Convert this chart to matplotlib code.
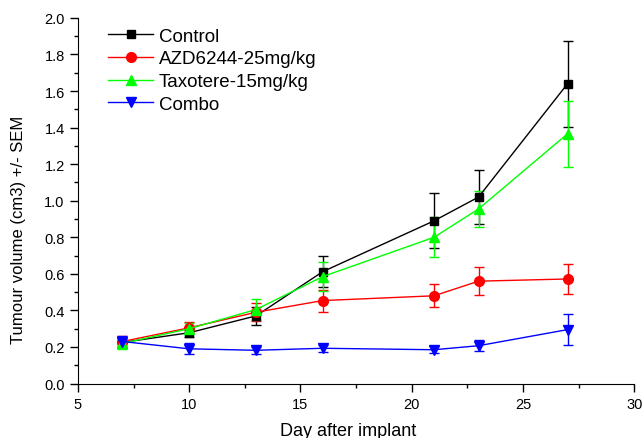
import numpy as np
import matplotlib.pyplot as plt
from matplotlib.ticker import MultipleLocator

plt.rcParams['font.family'] = ['Liberation Sans', 'DejaVu Sans']

days = [7, 10, 13, 16, 21, 23, 27]

control = [0.225, 0.278, 0.37, 0.612, 0.89, 1.02, 1.64]
control_err = [0.03, 0.025, 0.05, 0.085, 0.15, 0.146, 0.235]

azd = [0.23, 0.305, 0.39, 0.454, 0.48, 0.56, 0.572]
azd_err = [0.03, 0.03, 0.05, 0.06, 0.062, 0.075, 0.08]

taxotere = [0.22, 0.30, 0.405, 0.585, 0.80, 0.955, 1.366]
taxotere_err = [0.03, 0.03, 0.055, 0.08, 0.11, 0.10, 0.18]

combo = [0.23, 0.19, 0.182, 0.193, 0.185, 0.207, 0.295]
combo_err = [0.03, 0.03, 0.02, 0.02, 0.02, 0.03, 0.085]

series = [
    ('Control', control, control_err, 'black', 's', 6),
    ('AZD6244-25mg/kg', azd, azd_err, 'red', 'o', 7),
    ('Taxotere-15mg/kg', taxotere, taxotere_err, '#00ff00', '^', 7.5),
    ('Combo', combo, combo_err, 'blue', 'v', 7.5),
]

fig = plt.figure(figsize=(6.44, 4.39), dpi=100)
ax = fig.add_axes([0.121, 0.124, 0.864, 0.833])

for name, vals, errs, col, mk, ms in series:
    ax.errorbar(days, vals, yerr=errs, color=col, marker=mk, markersize=ms,
                linewidth=1, elinewidth=1, capsize=3.3, capthick=1, label=name)

ax.set_xlim(5, 30)
ax.set_ylim(0, 2.0)
ax.xaxis.set_major_locator(MultipleLocator(5))
ax.xaxis.set_minor_locator(MultipleLocator(2.5))
ax.yaxis.set_major_locator(MultipleLocator(0.2))
ax.yaxis.set_minor_locator(MultipleLocator(0.1))
ax.yaxis.set_major_formatter(plt.FuncFormatter(lambda v, p: '%.1f' % v))

ax.spines['top'].set_visible(False)
ax.spines['right'].set_visible(False)
ax.tick_params(which='major', direction='out', length=5.5, width=1, labelsize=10.5, pad=4)
ax.tick_params(which='minor', direction='out', length=3, width=1)

ax.set_xlabel('Day after implant', fontsize=13)
ax.set_ylabel('Tumour volume (cm3) +/- SEM', fontsize=12)
ax.xaxis.set_label_coords(0.485, -0.105, transform=ax.transAxes)
ax.yaxis.set_label_coords(-0.093, 0.423, transform=ax.transAxes)

handles, labels = ax.get_legend_handles_labels()
handles = [h[0] for h in handles]
ax.legend(handles, labels, loc='upper left', frameon=False, fontsize=13.5,
          bbox_to_anchor=(0.024, 1.02), handlelength=2.4, labelspacing=0.3,
          handletextpad=0.3)

plt.savefig('out.png')
